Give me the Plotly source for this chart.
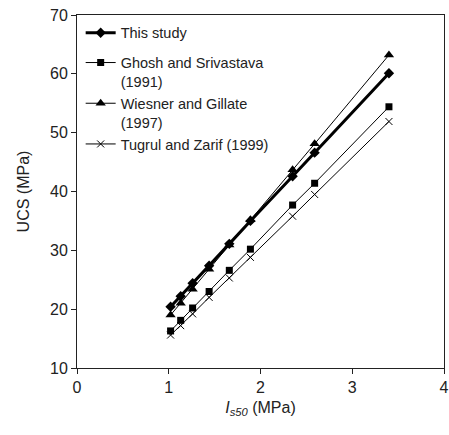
import plotly.graph_objects as go

is50 = [1.02, 1.13, 1.26, 1.44, 1.66, 1.89, 2.35, 2.59, 3.40]
this_study = [20.4, 22.2, 24.4, 27.4, 31.1, 35.0, 42.6, 46.6, 60.1]
ghosh = [16.3, 18.1, 20.2, 23.0, 26.6, 30.2, 37.7, 41.4, 54.4]
wiesner = [19.0, 21.0, 23.4, 26.8, 30.9, 35.2, 43.7, 48.1, 63.2]
tugrul = [15.6, 17.2, 19.2, 22.0, 25.3, 28.8, 35.8, 39.5, 51.9]

names = ["This study", "Ghosh and Srivastava<br>(1991)",
         "Wiesner and Gillate<br>(1997)", "Tugrul and Zarif (1999)"]

fig = go.Figure()
fig.add_trace(go.Scatter(x=is50, y=this_study, name=names[0], mode="lines+markers",
                         legendgroup="a",
                         line=dict(color="black", width=3),
                         marker=dict(symbol="diamond", size=8, color="black")))
fig.add_trace(go.Scatter(x=is50, y=ghosh, name=names[1], mode="lines+markers",
                         legendgroup="b",
                         line=dict(color="black", width=1),
                         marker=dict(symbol="square", size=7, color="black")))
fig.add_trace(go.Scatter(x=is50, y=wiesner, name=names[2], mode="lines+markers",
                         legendgroup="b",
                         line=dict(color="black", width=1),
                         marker=dict(symbol="triangle-up", size=9, color="black")))
fig.add_trace(go.Scatter(x=is50, y=tugrul, name=names[3], mode="lines+markers",
                         legendgroup="b",
                         line=dict(color="black", width=1),
                         marker=dict(symbol="x-thin", size=7, color="black",
                                     line=dict(color="black", width=1))))

axis_common = dict(showgrid=False, zeroline=False, showline=True, linecolor="#222",
                   linewidth=1, mirror=True, ticks="outside", ticklen=5,
                   tickcolor="#222", tickfont=dict(size=16, color="#222"),
                   automargin=False)

fig.update_layout(
    width=449, height=435,
    margin=dict(l=77, r=5, t=15, b=67),
    paper_bgcolor="white", plot_bgcolor="white",
    font=dict(family="Liberation Sans, Arial, sans-serif", color="#222"),
    xaxis=dict(range=[0, 4], dtick=1, title=dict(text="<i>I</i><sub><i>s50</i></sub> (MPa)",
               font=dict(size=16), standoff=6), **axis_common),
    yaxis=dict(range=[10, 70], dtick=10, title=dict(text="UCS (MPa)", font=dict(size=16),
               standoff=16), **axis_common),
    legend=dict(x=0.01, y=0.995, xanchor="left", yanchor="top", valign="top",
                font=dict(size=14.5, color="#222"), bgcolor="rgba(0,0,0,0)",
                tracegroupgap=8),
    showlegend=True,
)

fig.write_html("out.html", config={"displayModeBar": False},
               post_script="document.body.style.margin='0';document.body.style.overflow='hidden';")
